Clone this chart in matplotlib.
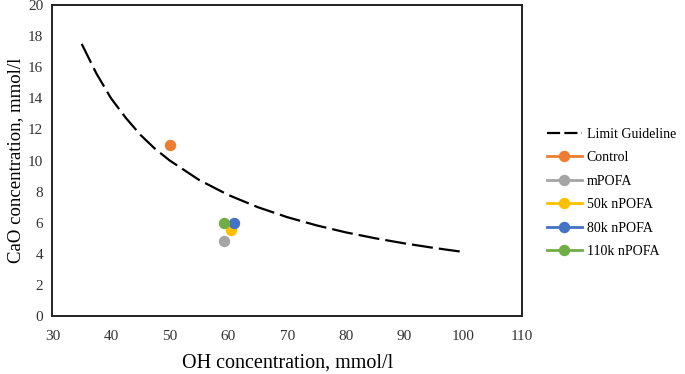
import matplotlib
matplotlib.use("Agg")
import matplotlib.pyplot as plt
from matplotlib.lines import Line2D

# Limit guideline
limit_oh = [35, 37.5, 40, 42.5, 45, 47.5, 50, 55, 60, 65, 70, 75, 80, 85, 90, 95, 100]
limit_cao = [17.5, 15.6, 14.0, 12.75, 11.65, 10.75, 10.0, 8.75, 7.78, 7.0, 6.36, 5.83, 5.38, 5.0, 4.67, 4.38, 4.12]

series_names = ["Control", "mPOFA", "50k nPOFA", "80k nPOFA", "110k nPOFA"]
series_oh = [50.0, 59.2, 60.5, 61.0, 59.2]
series_cao = [11.0, 4.8, 5.5, 6.0, 6.0]
series_colors = ["#ED7D31", "#A5A5A5", "#FFC000", "#4472C4", "#70AD47"]

x_ticks = [30, 40, 50, 60, 70, 80, 90, 100, 110]
y_ticks = [0, 2, 4, 6, 8, 10, 12, 14, 16, 18, 20]

plt.rcParams['font.family'] = ['Liberation Serif', 'DejaVu Serif']

fig = plt.figure(figsize=(6.85, 3.74), dpi=100)
ax = fig.add_axes([0.0764, 0.155, 0.6856, 0.8316])

ax.plot(limit_oh, limit_cao, color="black", lw=1.6, dashes=(9.5, 2.7), zorder=2)
for name, x, y, c in zip(series_names, series_oh, series_cao, series_colors):
    ax.plot([x], [y], 'o', color=c, markersize=7.2, zorder=3)

ax.set_xlim(30, 110)
ax.set_ylim(0, 20)
ax.set_xticks(x_ticks)
ax.set_yticks(y_ticks)
ax.tick_params(length=0, labelsize=11, colors="#333333")
ax.tick_params(axis='x', pad=10)
ax.tick_params(axis='y', pad=6.5)
for s in ax.spines.values():
    s.set_linewidth(1.4)
    s.set_color("#222222")

ax.set_xlabel("OH concentration, mmol/l", fontsize=14.5, va='center')
ax.set_ylabel("CaO concentration, mmol/l", fontsize=13.5, va='center')
ax.xaxis.set_label_coords(0.5, -0.151)
ax.yaxis.set_label_coords(-0.079, 0.5)

handles = [Line2D([0], [0], color="black", lw=1.6, dashes=(5.9, 1.9))]
labels = ["Limit Guideline"]
for name, c in zip(series_names, series_colors):
    handles.append(Line2D([0], [0], color=c, lw=2, marker='o', markersize=7.2))
    labels.append(name)
fig.legend(handles, labels, loc="upper left", bbox_to_anchor=(0.7905, 0.673),
           frameon=False, fontsize=10, handlelength=2.5, handletextpad=0.36,
           labelspacing=0.75, borderaxespad=0)

fig.savefig("out.png", dpi=100)
